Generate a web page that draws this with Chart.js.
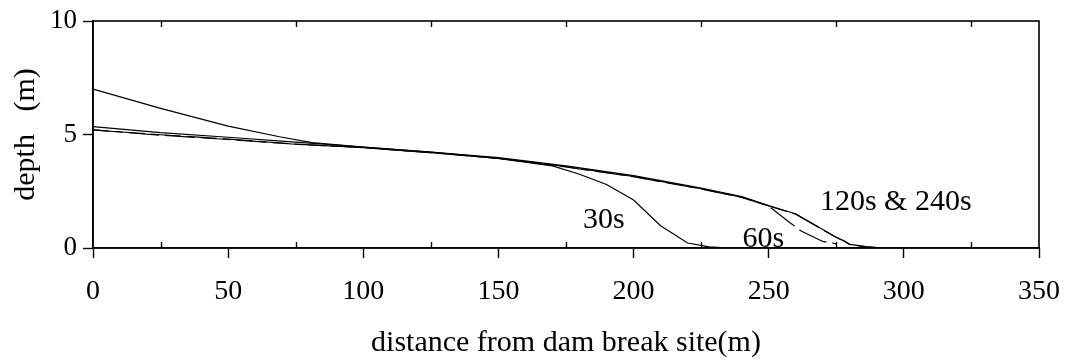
<!DOCTYPE html>
<html>
<head>
<meta charset="utf-8">
<script src="https://cdn.jsdelivr.net/npm/chart.js@4/dist/chart.umd.min.js"></script>
<style>
  html, body { margin: 0; padding: 0; background: #fff; }
  #wrap { width: 1070px; height: 363px; }
</style>
</head>
<body>
<div id="wrap"><canvas id="myChart"></canvas></div>
<script>
// data
const x30 = [0, 25, 50, 69, 81, 100, 125, 150, 170, 180, 190, 200, 210, 220, 228, 235];
const depth30 = [7.0, 6.15, 5.37, 4.9, 4.64, 4.44, 4.22, 3.95, 3.62, 3.25, 2.8, 2.11, 0.98, 0.22, 0.05, 0];

const x60 = [0, 25, 50, 75, 100, 125, 150, 175, 200, 225, 240, 250, 258, 262, 270, 275];
const depth60 = [5.2, 4.97, 4.78, 4.57, 4.42, 4.2, 3.95, 3.57, 3.14, 2.6, 2.23, 1.85, 1.1, 0.75, 0.29, 0.18];

const x120 = [0, 25, 50, 75, 100, 125, 150, 175, 200, 225, 240, 250, 260, 275, 278, 280, 286, 290, 330];
const depth120 = [5.35, 5.08, 4.88, 4.66, 4.45, 4.22, 3.98, 3.62, 3.19, 2.64, 2.27, 1.87, 1.5, 0.47, 0.31, 0.16, 0.06, 0.02, 0];

const x240 = [0, 25, 50, 75, 100, 125, 150, 175, 200, 225, 240, 250, 260, 275, 278, 280, 286, 290, 330];
const depth240 = [5.2, 4.99, 4.8, 4.58, 4.42, 4.2, 3.95, 3.58, 3.15, 2.61, 2.24, 1.85, 1.49, 0.46, 0.3, 0.15, 0.05, 0.02, 0];

const xTicks = [0, 50, 100, 150, 200, 250, 300, 350];
const xMinorTicks = [25, 75, 125, 175, 225, 275, 325];
const yTicks = [0, 5, 10];

const noteText = ['30s', '60s', '120s & 240s'];
const noteX = [189, 248, 297];
const noteY = [1.25, 0.4, 2.0];

function pts(xs, ys) {
  return xs.map(function (x, i) { return { x: x, y: ys[i] }; });
}

Chart.defaults.font.family = '"Liberation Serif", "Times New Roman", serif';
Chart.defaults.color = '#000';

// box round the plot, inside minor ticks and curve notes
const frame = {
  id: 'frame',
  afterDraw: function (chart) {
    const c = chart.ctx;
    const a = chart.chartArea;
    const sx = chart.scales.x;
    const sy = chart.scales.y;
    c.save();
    c.strokeStyle = '#000';
    c.lineWidth = 1.6;
    c.strokeRect(a.left, a.top, a.right - a.left, a.bottom - a.top);
    c.lineWidth = 1.4;
    xMinorTicks.forEach(function (v) {
      const px = Math.round(sx.getPixelForValue(v)) + 0.5;
      c.beginPath();
      c.moveTo(px, a.bottom);
      c.lineTo(px, a.bottom - 6);
      c.moveTo(px, a.top);
      c.lineTo(px, a.top + 6);
      c.stroke();
    });
    c.fillStyle = '#000';
    c.font = '30px "Liberation Serif", serif';
    c.textAlign = 'center';
    c.textBaseline = 'middle';
    noteText.forEach(function (t, i) {
      c.fillText(t, sx.getPixelForValue(noteX[i]), sy.getPixelForValue(noteY[i]));
    });
    c.restore();
  }
};

const ctx = document.getElementById('myChart').getContext('2d');

const chart = new Chart(ctx, {
  type: 'scatter',
  data: {
    datasets: [
      {
        label: '30s',
        data: pts(x30, depth30),
        showLine: true,
        borderColor: '#000',
        borderWidth: 1.2,
        pointRadius: 0,
      },
      {
        label: '60s',
        data: pts(x60, depth60),
        showLine: true,
        borderColor: '#000',
        borderWidth: 1.2,
        borderDash: [30, 6],
        pointRadius: 0,
      },
      {
        label: '120s',
        data: pts(x120, depth120),
        showLine: true,
        borderColor: '#000',
        borderWidth: 1.2,
        pointRadius: 0,
      },
      {
        label: '240s',
        data: pts(x240, depth240),
        showLine: true,
        borderColor: '#000',
        borderWidth: 1.2,
        borderDash: [30, 6],
        borderDashOffset: 14,
        pointRadius: 0,
      },
    ],
  },
  options: {
    responsive: true,
    maintainAspectRatio: false,
    animation: false,
    layout: {
      padding: { top: 21, right: 31, left: 0, bottom: 0 },
    },
    plugins: {
      legend: { display: false },
      tooltip: { enabled: false },
    },
    scales: {
      x: {
        type: 'linear',
        min: 0,
        max: 350,
        afterBuildTicks: function (s) {
          s.ticks = xTicks.map(function (v) { return { value: v }; });
        },
        afterFit: function (s) {
          s.height = 115;
          s.paddingLeft = 0;
          s.paddingRight = 0;
        },
        ticks: {
          font: { size: 28 },
          padding: 17,
          maxRotation: 0,
        },
        grid: {
          drawOnChartArea: false,
          tickLength: 10,
          tickWidth: 1.4,
          color: '#000',
        },
        border: { display: true, color: '#000', width: 1.6 },
        title: {
          display: true,
          text: 'distance from dam break site(m)',
          font: { size: 30 },
          padding: { top: 0, bottom: 2 },
        },
      },
      y: {
        min: 0,
        max: 10,
        afterBuildTicks: function (s) {
          s.ticks = yTicks.map(function (v) { return { value: v }; });
        },
        afterFit: function (s) {
          s.width = 93;
          s.paddingTop = 0;
          s.paddingBottom = 0;
        },
        ticks: {
          font: { size: 27 },
          padding: 6,
        },
        grid: {
          drawOnChartArea: false,
          tickLength: 10,
          tickWidth: 1.4,
          color: '#000',
        },
        border: { display: true, color: '#000', width: 1.6 },
        title: {
          display: true,
          text: 'depth   (m)',
          font: { size: 30 },
          padding: { top: 8, bottom: 0 },
        },
      },
    },
  },
  plugins: [frame],
});
</script>
</body>
</html>
